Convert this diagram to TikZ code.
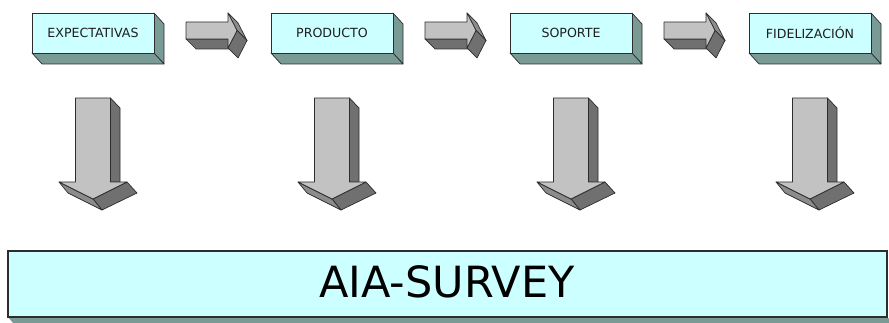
\documentclass[tikz,border=0pt]{standalone}
\usepackage{fontspec}
\setmainfont{DejaVu Sans}
\definecolor{boxfill}{RGB}{204,255,255}
\definecolor{boxside}{RGB}{122,154,150}
\definecolor{arrlight}{RGB}{194,194,194}
\definecolor{arrmid}{RGB}{140,140,140}
\definecolor{arrdark}{RGB}{112,112,112}
\definecolor{edgec}{RGB}{45,45,45}
\definecolor{txtc}{RGB}{30,30,30}
\tikzset{
  facestyle/.style={draw=edgec, line width=0.7pt, line join=round},
  boxtext/.style={text=txtc, font=\fontsize{12.6}{14}\selectfont, inner sep=0pt},
  bigtext/.style={text=black, font=\fontsize{43}{48}\selectfont, inner sep=0pt}
}
\newcommand\myBox[3]{%
  \begin{scope}[shift={(#1,0)}]
    \filldraw[facestyle, fill=boxside] (122,13) -- (132,24) -- (132,64) -- (122,53) -- cycle;
    \filldraw[facestyle, fill=boxside] (0,53) -- (122,53) -- (132,64) -- (10,64) -- cycle;
    \filldraw[facestyle, fill=boxfill] (0,13) rectangle (122,53);
    \node[boxtext] (#2) at (61,33) {#3};
  \end{scope}}
\newcommand\myRightArrow[1]{%
  \begin{scope}[shift={(#1,0)}]
    \filldraw[facestyle, fill=arrdark] (0,39) -- (42,39) -- (52,49) -- (10,49) -- cycle;
    \filldraw[facestyle, fill=arrmid] (42,13) -- (52,23) -- (61,40.5) -- (51,30.5) -- cycle;
    \filldraw[facestyle, fill=arrdark] (51,30.5) -- (61,40.5) -- (52,58) -- (42,48) -- cycle;
    \filldraw[facestyle, fill=arrlight] (0,22) -- (42,22) -- (42,13) -- (51,30.5) -- (42,48) -- (42,39) -- (0,39) -- cycle;
  \end{scope}}
\newcommand\myDownArrow[1]{%
  \begin{scope}[shift={(#1,0)}]
    \filldraw[facestyle, fill=arrdark] (17.5,98) -- (27,108) -- (27,182) -- (17.5,182) -- cycle;
    \filldraw[facestyle, fill=arrdark] (34,182) -- (44,193) -- (9,210) -- (0,199) -- cycle;
    \filldraw[facestyle, fill=arrmid] (-34,182) -- (0,199) -- (9,210) -- (-25,193) -- cycle;
    \filldraw[facestyle, fill=arrlight] (-17.5,98) -- (17.5,98) -- (17.5,182) -- (34,182) -- (0,199) -- (-34,182) -- (-17.5,182) -- cycle;
  \end{scope}}
\begin{document}
\begin{tikzpicture}[x=1pt,y=-1pt]
  \useasboundingbox (0,0) rectangle (889,323);
  \myBox{32}{b1}{EXPECTATIVAS}
  \myBox{271}{b2}{PRODUCTO}
  \myBox{510}{b3}{SOPORTE}
  \myBox{749}{b4}{FIDELIZACIÓN}
  \myRightArrow{186}
  \myRightArrow{425}
  \myRightArrow{664}
  \myDownArrow{93}
  \myDownArrow{332}
  \myDownArrow{571}
  \myDownArrow{810}
  \fill[boxside] (8,317) -- (887,317) -- (893,323) -- (13,323) -- cycle;
  \filldraw[draw=edgec, line width=1.1pt, fill=boxfill] (8,251) rectangle (887,317);
  \node[bigtext] (survey) at (447,282) {AIA-SURVEY};
\end{tikzpicture}
\end{document}
